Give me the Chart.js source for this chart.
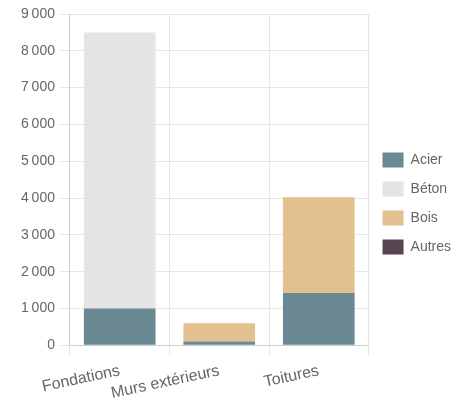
<!DOCTYPE html>
<html>
<head>
<meta charset="utf-8">
<script src="https://cdn.jsdelivr.net/npm/chart.js@4"></script>
<style>
  html, body { margin: 0; padding: 0; background: #fff; }
  #wrap { width: 458px; height: 403px; }
</style>
</head>
<body>
<div id="wrap"><canvas id="chart"></canvas></div>
<script>
const categories = ['Fondations', 'Murs extérieurs', 'Toitures'];
const acier = [1000, 100, 1420];
const beton = [7500, 0, 0];
const bois = [0, 500, 2600];
const autres = [0, 0, 0];

Chart.defaults.font.family = 'Liberation Sans, Arial, sans-serif';
Chart.defaults.font.size = 14;
Chart.defaults.color = '#666';

// the x axis box is shrunk in afterFit, so let its labels draw down to the canvas edge
const labelRoom = {
  id: 'labelRoom',
  afterLayout(chart) {
    chart.scales.x.bottom = chart.height;
  },
};

new Chart(document.getElementById('chart'), {
  type: 'bar',
  data: {
    labels: categories,
    datasets: [
      { label: 'Acier', data: acier, backgroundColor: '#6a8994' },
      { label: 'Béton', data: beton, backgroundColor: '#e4e4e4' },
      { label: 'Bois', data: bois, backgroundColor: '#e2c18e' },
      { label: 'Autres', data: autres, backgroundColor: '#574550' },
    ],
  },
  plugins: [labelRoom],
  options: {
    responsive: true,
    maintainAspectRatio: false,
    animation: false,
    locale: 'fr-FR',
    layout: { padding: { top: 14, right: -3, bottom: 10, left: 16 } },
    plugins: {
      legend: {
        position: 'right',
        labels: { boxWidth: 21, boxHeight: 15, padding: 14 },
      },
      tooltip: { enabled: false },
    },
    scales: {
      x: {
        stacked: true,
        ticks: { autoSkip: false, minRotation: 12, maxRotation: 12, padding: 6, font: { size: 16 } },
        grid: { color: '#e6e6e6', tickLength: 10 },
        afterFit: (axis) => { axis.height -= 16; },
      },
      y: {
        stacked: true,
        min: 0,
        max: 9000,
        ticks: { stepSize: 1000, padding: 5 },
        grid: { color: '#e6e6e6', tickLength: 10 },
      },
    },
  },
});
</script>
</body>
</html>
